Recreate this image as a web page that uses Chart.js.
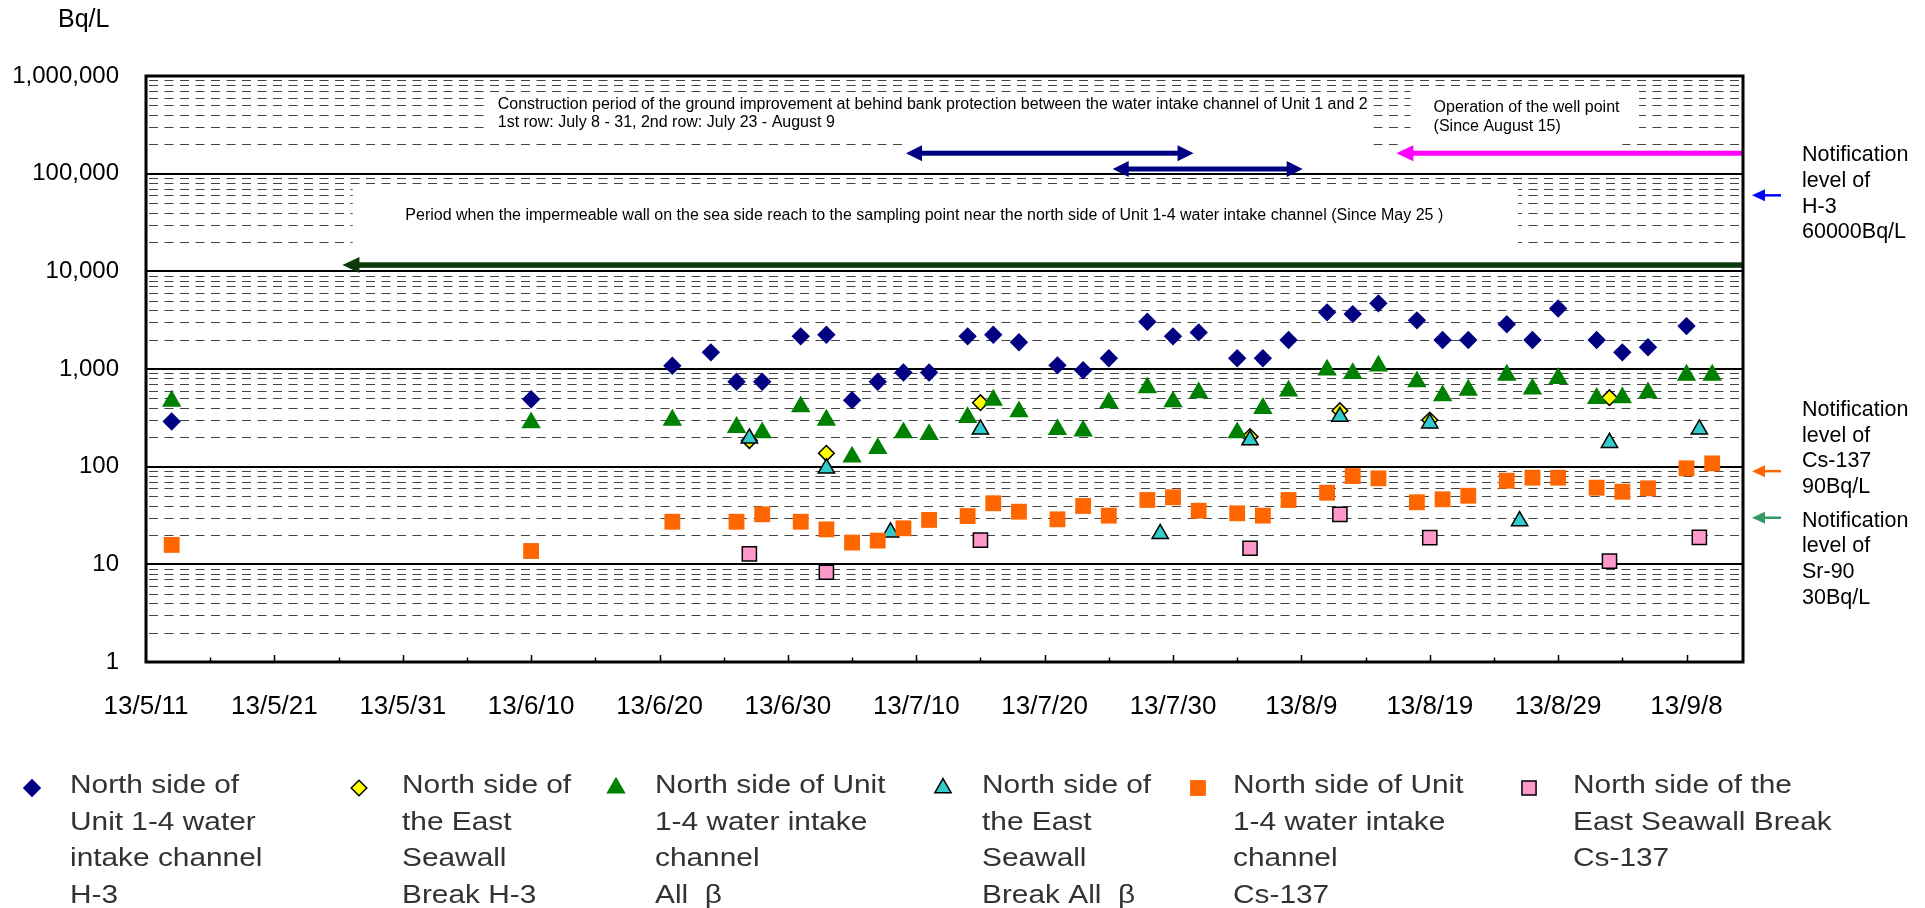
<!DOCTYPE html>
<html>
<head>
<meta charset="utf-8">
<title>North side of Unit 1-4 water intake channel</title>
<script src="https://cdn.jsdelivr.net/npm/chart.js@4.4.1/dist/chart.umd.min.js"></script>
<style>
  html, body { margin: 0; padding: 0; background: #ffffff; }
  canvas { display: block; }
</style>
</head>
<body>
<canvas id="radChart" width="1925" height="908"></canvas>
<script>
// sampling dates (2013, m/d) and results in Bq/L
const h3NorthDates = ["5/13", "6/10", "6/21", "6/24", "6/26", "6/28", "7/1", "7/3", "7/5", "7/7", "7/9", "7/11",
  "7/14", "7/16", "7/18", "7/21", "7/23", "7/25", "7/28", "7/30", "8/1", "8/4", "8/6", "8/8", "8/11", "8/13",
  "8/15", "8/18", "8/20", "8/22", "8/25", "8/27", "8/29", "9/1", "9/3", "9/5", "9/8"];
const h3NorthValues = [290, 490, 1080, 1480, 740, 740, 2160, 2240, 480, 740, 920, 920,
  2160, 2240, 1880, 1090, 970, 1290, 3050, 2160, 2370, 1290, 1290, 1980, 3800, 3650,
  4700, 3150, 1980, 1980, 2870, 1980, 4160, 1980, 1480, 1670, 2750];

// all beta and Cs-137 share the same north side sampling days
const northDates = ["5/13", "6/10", "6/21", "6/26", "6/28", "7/1", "7/3", "7/5", "7/7", "7/9", "7/11", "7/14",
  "7/16", "7/18", "7/21", "7/23", "7/25", "7/28", "7/30", "8/1", "8/4", "8/6", "8/8", "8/11", "8/13", "8/15",
  "8/18", "8/20", "8/22", "8/25", "8/27", "8/29", "9/1", "9/3", "9/5", "9/8", "9/10"];
const betaNorthValues = [470, 282, 300, 253, 223, 411, 300, 126, 154, 223, 214, 320,
  481, 365, 241, 233, 452, 644, 462, 572, 223, 396, 595, 977, 903, 1073,
  741, 533, 609, 867, 624, 803, 501, 508, 572, 867, 867];
const csNorthValues = [15.8, 13.7, 27.3, 27.3, 32.5, 27.3, 22.8, 16.7, 17.5, 23.4, 28.5, 31.2,
  42.2, 34.6, 28.9, 39.6, 31.5, 45.6, 48.6, 35.4, 33.3, 31.5, 45.6, 54.1, 80.2, 75.9,
  43.2, 46.3, 50.4, 71.8, 77.1, 77.1, 60.9, 55.4, 60, 96.2, 108];

const h3EastDates = ["6/27", "7/3", "7/15", "8/5", "8/12", "8/19", "9/2"];
const h3EastValues = [185, 137, 452, 203, 374, 300, 508];
const betaEastDates = ["6/27", "7/3", "7/8", "7/15", "7/29", "8/5", "8/12", "8/19", "8/26", "9/2", "9/9"];
const betaEastValues = [195, 96, 21.3, 241, 20.5, 187, 325, 278, 27.8, 176, 241];
const csEastDates = ["6/27", "7/3", "7/15", "8/5", "8/12", "8/19", "9/2", "9/9"];
const csEastValues = [12.8, 8.3, 17.7, 14.6, 32.5, 18.8, 10.8, 18.9];

const xTickLabels = ["13/5/11", "13/5/21", "13/5/31", "13/6/10", "13/6/20", "13/6/30", "13/7/10",
  "13/7/20", "13/7/30", "13/8/9", "13/8/19", "13/8/29", "13/9/8"];
const yTickValues = [1, 10, 100, 1000, 10000, 100000, 1000000];
const yTickLabels = ["1", "10", "100", "1,000", "10,000", "100,000", "1,000,000"];

// notification levels marked on the right
const limitValues = [60000, 90, 30];
const limitLabels = [
  ["Notification", "level of", "H-3", "60000Bq/L"],
  ["Notification", "level of", "Cs-137", "90Bq/L"],
  ["Notification", "level of", "Sr-90", "30Bq/L"]
];

// work periods shown as arrows (days after 13/5/11, start / end) and their height
const periodStarts = [59.2, 75.3, 97.4, 15.3];
const periodEnds = [81.6, 90.1, 124.4, 124.4];
const periodLevels = [162000, 111600, 162000, 11600];

const FONT = '"Liberation Sans", Arial, sans-serif';
const dayOf = (md) => {
  const p = md.split("/").map(Number);
  const [m, d] = p.length === 3 ? [p[1], p[2]] : p;
  return (Date.UTC(2013, m - 1, d) - Date.UTC(2013, 4, 11)) / 86400000;
};
const points = (dates, values) => dates.map((d, i) => ({ x: dayOf(d), y: values[i] }));

const series = [
  { label: ["North side of", "Unit 1-4 water", "intake channel", "H-3"], data: points(h3NorthDates, h3NorthValues),
    style: "rectRot", radius: 9.2, fill: "#000080", border: "#000080", bw: 0 },
  { label: ["North side of", "the East", "Seawall", "Break H-3"], data: points(h3EastDates, h3EastValues),
    style: "rectRot", radius: 7.8, fill: "#FFFF00", border: "#000000", bw: 1.5 },
  { label: ["North side of Unit", "1-4 water intake", "channel", "All  \u03B2"], data: points(northDates, betaNorthValues),
    style: "triangle", radius: 11.2, fill: "#008000", border: "#008000", bw: 0 },
  { label: ["North side of", "the East", "Seawall", "Break All  \u03B2"], data: points(betaEastDates, betaEastValues),
    style: "triangle", radius: 9.4, fill: "#33CCCC", border: "#000000", bw: 1.5 },
  { label: ["North side of Unit", "1-4 water intake", "channel", "Cs-137"], data: points(northDates, csNorthValues),
    style: "rect", radius: 11.2, fill: "#FF6600", border: "#FF6600", bw: 0 },
  { label: ["North side of the", "East Seawall Break", "Cs-137"], data: points(csEastDates, csEastValues),
    style: "rect", radius: 10, fill: "#FF99CC", border: "#000000", bw: 1.5 }
];

// white text boxes of the original sheet (days / Bq/L)
const maskBoxes = [
  { from: 26.8, to: 95.6, top: 669000, bottom: 237000 },
  { from: 59.1, to: 95.6, top: 237000, bottom: 174600 },
  { from: 98.5, to: 116.3, top: 753000, bottom: 216000 },
  { from: 97.5, to: 115.0, top: 216000, bottom: 183000 },
  { from: 16.1, to: 106.9, top: 74600, bottom: 13700 }
];
const boxTexts = [
  { day: 27.4, value: 505000, text: "Construction period of the ground improvement at behind bank protection between the water intake channel of Unit 1 and 2" },
  { day: 27.4, value: 330000, text: "1st row: July 8 - 31, 2nd row: July 23 - August 9" },
  { day: 100.3, value: 470000, text: "Operation of the well point" },
  { day: 100.3, value: 300000, text: "(Since August 15)" },
  { day: 20.2, value: 36800, text: "Period when the impermeable wall on the sea side reach to the sampling point near the north side of Unit 1-4 water intake channel (Since May 25 )" }
];
const arrowStyles = [
  { color: "#000080", shaft: 5, head: 16, half: 8, both: true },
  { color: "#000080", shaft: 5, head: 16, half: 8, both: true },
  { color: "#FF00FF", shaft: 5, head: 17, half: 8, both: false },
  { color: "#0B3A0B", shaft: 5.5, head: 17, half: 8, both: false }
];
const limitColors = ["#0000FF", "#FF6600", "#339966"];
const limitTextOffsets = [-40, -61, 3];
const legendSlots = [[32, 70], [359, 402], [616, 655], [943, 982], [1198, 1233], [1529, 1573]];

function arrow(ctx, x1, x2, y, s) {
  ctx.fillStyle = s.color;
  const a = x1 + s.head - 1;
  const b = s.both ? x2 - s.head + 1 : x2;
  ctx.fillRect(a, y - s.shaft / 2, b - a, s.shaft);
  ctx.beginPath();
  ctx.moveTo(x1, y); ctx.lineTo(x1 + s.head, y - s.half); ctx.lineTo(x1 + s.head, y + s.half);
  ctx.closePath(); ctx.fill();
  if (s.both) {
    ctx.beginPath();
    ctx.moveTo(x2, y); ctx.lineTo(x2 - s.head, y - s.half); ctx.lineTo(x2 - s.head, y + s.half);
    ctx.closePath(); ctx.fill();
  }
}

function marker(ctx, s, x, y) {
  ctx.fillStyle = s.fill;
  ctx.strokeStyle = s.border;
  ctx.lineWidth = s.bw;
  const opts = { pointStyle: s.style, radius: s.radius, rotation: 0, borderWidth: s.bw };
  if (Chart.helpers && Chart.helpers.drawPoint) {
    Chart.helpers.drawPoint(ctx, opts, x, y);
    return;
  }
  const r = s.radius;
  ctx.beginPath();
  if (s.style === "rectRot") {
    ctx.moveTo(x, y - r); ctx.lineTo(x + r, y); ctx.lineTo(x, y + r); ctx.lineTo(x - r, y);
  } else if (s.style === "triangle") {
    ctx.moveTo(x, y - r); ctx.lineTo(x + r * 0.866, y + r / 2); ctx.lineTo(x - r * 0.866, y + r / 2);
  } else {
    const h = r * Math.SQRT1_2;
    ctx.rect(x - h, y - h, 2 * h, 2 * h);
  }
  ctx.closePath(); ctx.fill();
  if (s.bw > 0) ctx.stroke();
}

const sheetDecor = {
  id: "sheetDecor",
  beforeDatasetsDraw(chart) {
    const { ctx, chartArea: area, scales: { x, y } } = chart;
    ctx.save();

    // minor grid lines 2..9 of each decade
    ctx.setLineDash([9, 6.5]);
    ctx.lineWidth = 1;
    ctx.strokeStyle = "#444";
    for (let d = 1; d < 1000000; d *= 10) {
      for (let k = 2; k < 10; k++) {
        const py = Math.round(y.getPixelForValue(k * d)) + 0.5;
        ctx.beginPath(); ctx.moveTo(area.left + 3, py); ctx.lineTo(area.right - 2, py); ctx.stroke();
      }
    }
    ctx.setLineDash([]);

    // text boxes hide the grid
    ctx.fillStyle = "#ffffff";
    maskBoxes.forEach((b) => {
      const l = x.getPixelForValue(b.from), r = x.getPixelForValue(b.to);
      const t = y.getPixelForValue(b.top), btm = y.getPixelForValue(b.bottom);
      ctx.fillRect(l, t, r - l, btm - t);
    });

    // decade lines
    ctx.strokeStyle = "#000";
    ctx.lineWidth = 2;
    yTickValues.slice(1, -1).forEach((v) => {
      const py = Math.round(y.getPixelForValue(v));
      ctx.beginPath(); ctx.moveTo(area.left, py); ctx.lineTo(area.right, py); ctx.stroke();
    });

    // period arrows
    periodStarts.forEach((s, i) => {
      arrow(ctx, x.getPixelForValue(s), x.getPixelForValue(Math.min(periodEnds[i], x.max)),
        y.getPixelForValue(periodLevels[i]), arrowStyles[i]);
    });

    // box captions
    ctx.fillStyle = "#000";
    ctx.font = "16px " + FONT;
    ctx.textAlign = "left";
    ctx.textBaseline = "middle";
    boxTexts.forEach((t) => ctx.fillText(t.text, x.getPixelForValue(t.day), y.getPixelForValue(t.value)));

    // plot frame
    ctx.lineWidth = 3;
    ctx.strokeStyle = "#000";
    ctx.strokeRect(area.left, area.top, area.right - area.left, area.bottom - area.top);

    // inward tick marks every 5 days
    ctx.lineWidth = 1.5;
    for (let dd = 5; dd < x.max; dd += 5) {
      const px = Math.round(x.getPixelForValue(dd)) + 0.5;
      const len = dd % 10 === 0 ? 7 : 4.5;
      ctx.beginPath(); ctx.moveTo(px, area.bottom); ctx.lineTo(px, area.bottom - len); ctx.stroke();
    }
    ctx.restore();
  },
  afterDraw(chart) {
    const { ctx, chartArea: area, scales: { y } } = chart;
    ctx.save();
    ctx.fillStyle = "#000";
    ctx.textBaseline = "middle";
    ctx.textAlign = "left";
    ctx.font = "25px " + FONT;
    ctx.fillText("Bq/L", 58, 20);

    // notification level arrows and notes
    limitValues.forEach((v, i) => {
      const py = y.getPixelForValue(v);
      arrow(ctx, area.right + 9, area.right + 38, py, { color: limitColors[i], shaft: 2.5, head: 13, half: 6, both: false });
      ctx.fillStyle = "#000";
      ctx.font = "21.5px " + FONT;
      limitLabels[i].forEach((line, j) => ctx.fillText(line, 1802, py + limitTextOffsets[i] + j * 25.7));
    });

    // legend
    series.forEach((s, i) => {
      const [mx, tx] = legendSlots[i];
      marker(ctx, s, mx, 788);
      ctx.fillStyle = "#333";
      ctx.font = "25.5px " + FONT;
      s.label.forEach((line, j) => {
        ctx.save();
        ctx.translate(tx, 786 + j * 36.5);
        ctx.scale(1.17, 1);
        ctx.fillText(line, 0, 0);
        ctx.restore();
      });
    });
    ctx.restore();
  }
};

Chart.defaults.font.family = FONT;
Chart.defaults.color = "#000";

new Chart(document.getElementById("radChart"), {
  type: "scatter",
  data: {
    datasets: series.map((s, i) => ({
      label: s.label.join(" "),
      data: s.data,
      showLine: false,
      pointStyle: s.style,
      pointRadius: s.radius,
      pointHoverRadius: s.radius,
      pointBackgroundColor: s.fill,
      pointBorderColor: s.border,
      pointBorderWidth: s.bw,
      order: series.length - i
    }))
  },
  options: {
    responsive: false,
    devicePixelRatio: 1,
    animation: false,
    events: [],
    layout: { padding: { top: 76, right: 182, left: 0, bottom: 0 } },
    plugins: { legend: { display: false }, tooltip: { enabled: false } },
    scales: {
      x: {
        type: "linear",
        min: 0,
        max: 124.4,
        grid: { display: false, drawTicks: false },
        border: { display: false },
        afterBuildTicks: (scale) => { scale.ticks = xTickLabels.map((l) => ({ value: dayOf(l) })); },
        afterFit: (scale) => { scale.height = 246; },
        ticks: {
          autoSkip: false, maxRotation: 0, padding: 29,
          font: { size: 26 },
          callback: (v, i) => xTickLabels[i]
        }
      },
      y: {
        type: "logarithmic",
        min: 1,
        max: 1000000,
        grid: { display: false, drawTicks: false },
        border: { display: false },
        afterBuildTicks: (scale) => { scale.ticks = yTickValues.map((v) => ({ value: v })); },
        afterFit: (scale) => { scale.width = 146; },
        ticks: {
          autoSkip: false, padding: 27,
          font: { size: 24 },
          callback: (v, i) => yTickLabels[i]
        }
      }
    }
  },
  plugins: [sheetDecor]
});
</script>
</body>
</html>
